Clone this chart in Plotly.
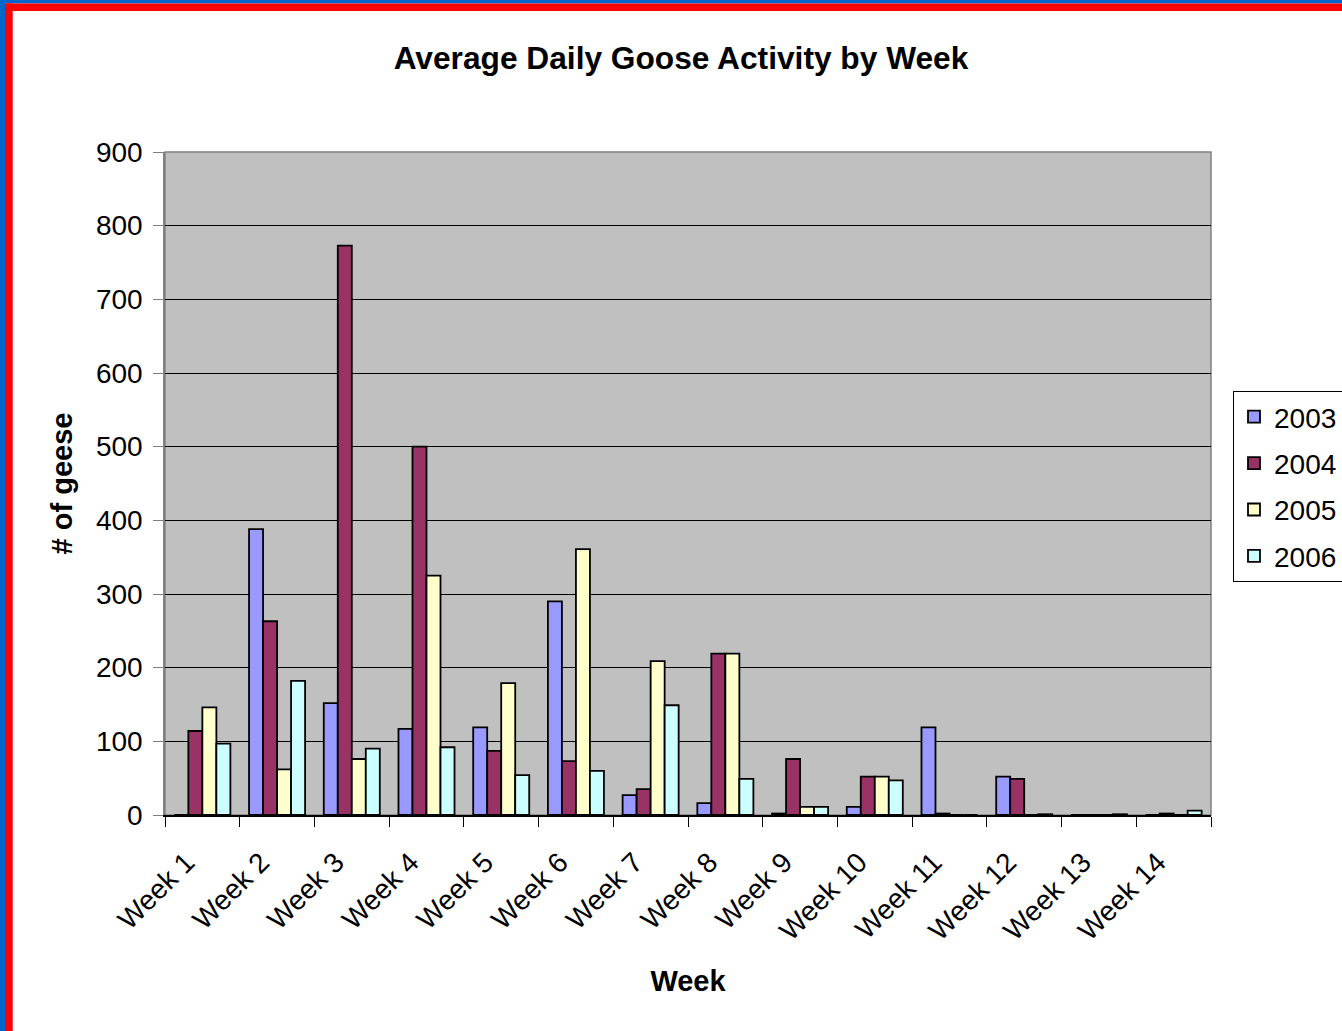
import plotly.graph_objects as go

weeks = ["Week 1", "Week 2", "Week 3", "Week 4", "Week 5", "Week 6", "Week 7",
         "Week 8", "Week 9", "Week 10", "Week 11", "Week 12", "Week 13", "Week 14"]
y2003 = [0, 388, 152, 117, 119, 290, 27, 16, 2, 11, 119, 52, 0, 0]
y2004 = [114, 263, 773, 500, 87, 73, 35, 219, 76, 52, 2, 49, 0, 2]
y2005 = [146, 62, 76, 325, 179, 361, 209, 219, 11, 52, 0, 0, 0, 0]
y2006 = [97, 182, 90, 92, 54, 60, 149, 49, 11, 47, 0, 1, 1, 6]
series = [("2003", y2003, "#9999FF"), ("2004", y2004, "#993366"),
          ("2005", y2005, "#FFFFCC"), ("2006", y2006, "#CCFFFF")]

W, H = 1342, 1031
L, R, T, B = 165, 1211, 152, 815
FONT = "Liberation Sans, Arial, sans-serif"

def px_x(p):
    return (p - L) / (R - L)

def px_y(p):
    return (B - p) / (B - T)

fig = go.Figure()
for name, vals, col in series:
    fig.add_trace(go.Bar(name=name, x=weeks, y=vals, marker_color=col,
                         marker_line_color="black", marker_line_width=1.8,
                         legendgroup=name))

shapes = [
    dict(type="rect", xref="paper", yref="paper", x0=0, x1=1, y0=0, y1=1,
         line=dict(color="#808080", width=1.5), layer="below"),
    dict(type="rect", xref="paper", yref="paper", x0=px_x(0), x1=px_x(W),
         y0=px_y(3.5), y1=px_y(0), fillcolor="#0066CC", line_width=0, layer="above"),
    dict(type="rect", xref="paper", yref="paper", x0=px_x(5), x1=px_x(W),
         y0=px_y(11), y1=px_y(3.5), fillcolor="#FF0000", line_width=0, layer="above"),
    dict(type="rect", xref="paper", yref="paper", x0=px_x(0), x1=px_x(5),
         y0=px_y(H), y1=px_y(0), fillcolor="#0066CC", line_width=0, layer="above"),
    dict(type="rect", xref="paper", yref="paper", x0=px_x(5), x1=px_x(12.7),
         y0=px_y(H), y1=px_y(3.5), fillcolor="#FF0000", line_width=0, layer="above"),
]

fig.update_layout(
    width=W, height=H,
    margin=dict(l=L, r=W - R, t=T, b=H - B, autoexpand=False),
    paper_bgcolor="white", plot_bgcolor="#C0C0C0",
    font=dict(family=FONT, color="black", size=28),
    title=dict(text="<b>Average Daily Goose Activity by Week</b>",
               x=(394 + 968) / 2 / W, xanchor="center",
               y=1 - 58 / H, yanchor="middle",
               font=dict(size=31.7, family=FONT)),
    barmode="group", bargap=0.25, bargroupgap=0,
    showlegend=True,
    legend=dict(x=px_x(1233), y=px_y(391), xanchor="left", yanchor="top",
                bgcolor="white", bordercolor="black", borderwidth=1,
                font=dict(size=28, family=FONT), traceorder="grouped",
                tracegroupgap=7),
    xaxis=dict(tickangle=-45, tickson="boundaries", ticks="outside", ticklen=10,
               tickcolor="black", showline=True, linecolor="black", linewidth=1.5,
               showgrid=False, tickfont=dict(size=28),
               ticklabelstandoff=18, ticklabelshift=-16,
               title=dict(text="<b>Week</b>", font=dict(size=29), standoff=25)),
    yaxis=dict(range=[0, 900], dtick=100, ticks="outside", ticklen=10,
               tickcolor="#808080", showline=True, linecolor="#808080",
               linewidth=1.5, showgrid=True, gridcolor="black", gridwidth=1,
               zeroline=False, tickfont=dict(size=28), ticklabelstandoff=5,
               title=dict(text="<b># of geese</b>", font=dict(size=29), standoff=15)),
    shapes=shapes,
)

fig.write_html("out.html",
               config={"displayModeBar": False},
               post_script="document.body.style.margin='0px';"
                           "document.body.style.overflow='hidden';")
